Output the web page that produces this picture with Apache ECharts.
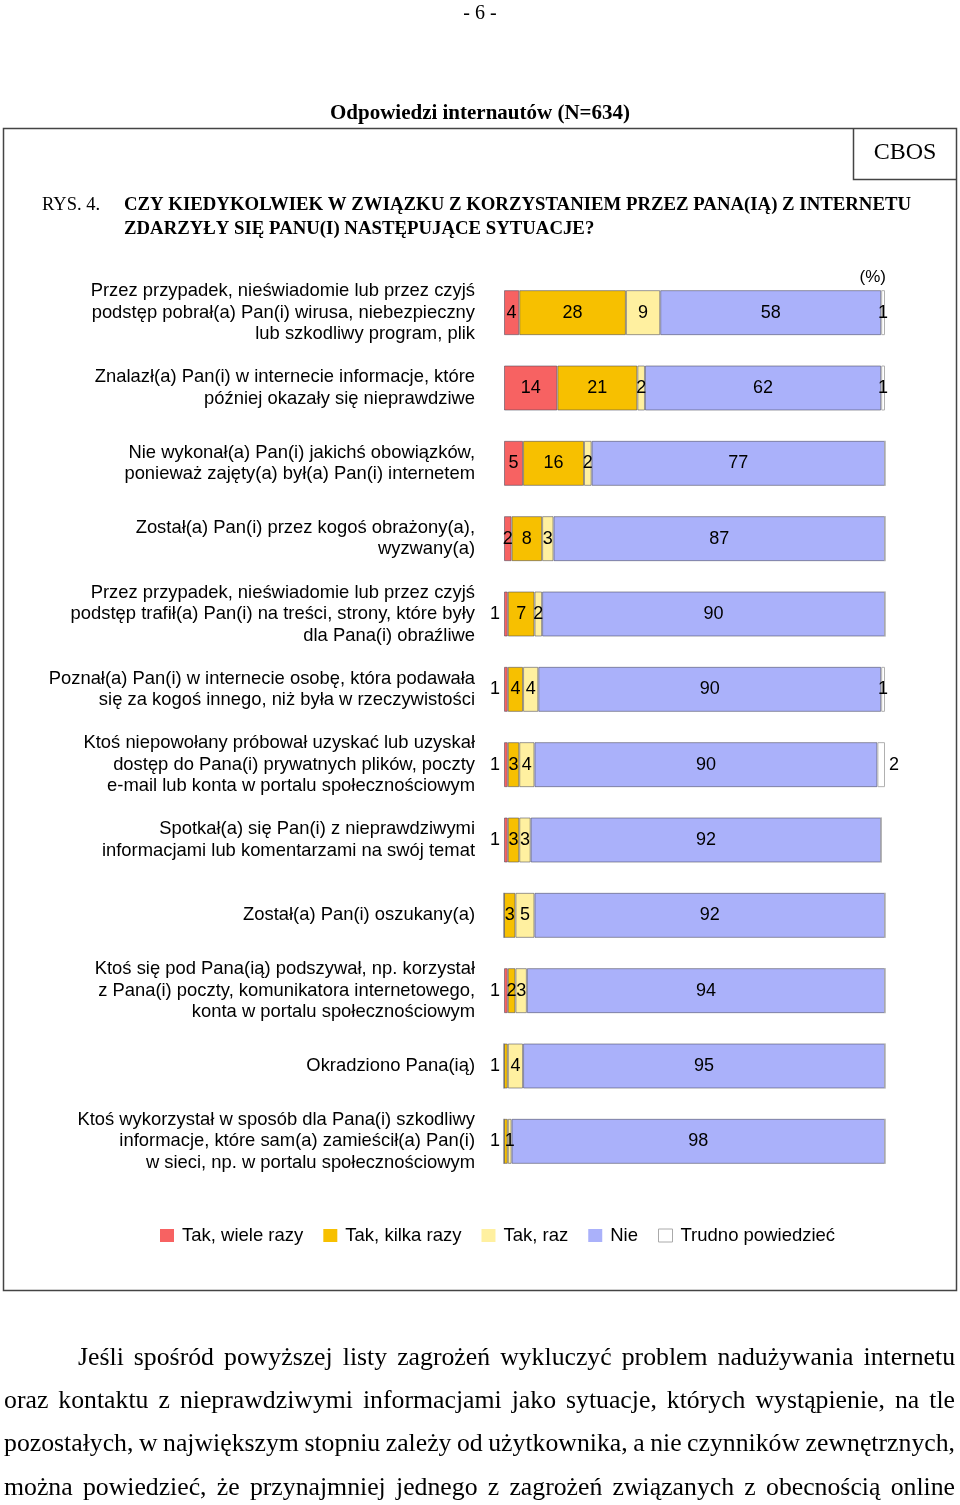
<!DOCTYPE html>
<html><head><meta charset="utf-8">
<script src="https://cdn.jsdelivr.net/npm/echarts@6/dist/echarts.min.js"></script>
<style>html,body{margin:0;padding:0;background:#fff}#c{width:960px;height:1505px}</style>
</head><body><div id="c"></div>
<script>
const categories = [
  "Przez przypadek, nieświadomie lub przez czyjś\npodstęp pobrał(a) Pan(i) wirusa, niebezpieczny\nlub szkodliwy program, plik",
  "Znalazł(a) Pan(i) w internecie informacje, które\npóźniej okazały się nieprawdziwe",
  "Nie wykonał(a) Pan(i) jakichś obowiązków,\nponieważ zajęty(a) był(a) Pan(i) internetem",
  "Został(a) Pan(i) przez kogoś obrażony(a),\nwyzwany(a)",
  "Przez przypadek, nieświadomie lub przez czyjś\npodstęp trafił(a) Pan(i) na treści, strony, które były\ndla Pana(i) obraźliwe",
  "Poznał(a) Pan(i) w internecie osobę, która podawała\nsię za kogoś innego, niż była w rzeczywistości",
  "Ktoś niepowołany próbował uzyskać lub uzyskał\ndostęp do Pana(i) prywatnych plików, poczty\ne-mail lub konta w portalu społecznościowym",
  "Spotkał(a) się Pan(i) z nieprawdziwymi\ninformacjami lub komentarzami na swój temat",
  "Został(a) Pan(i) oszukany(a)",
  "Ktoś się pod Pana(ią) podszywał, np. korzystał\nz Pana(i) poczty, komunikatora internetowego,\nkonta w portalu społecznościowym",
  "Okradziono Pana(ią)",
  "Ktoś wykorzystał w sposób dla Pana(i) szkodliwy\ninformacje, które sam(a) zamieścił(a) Pan(i)\nw sieci, np. w portalu społecznościowym"
];
const seriesNames = ["Tak, wiele razy", "Tak, kilka razy", "Tak, raz", "Nie", "Trudno powiedzieć"];
const takWiele  = [4, 14, 5, 2, 1, 1, 1, 1, 0, 1, 0, 0];
const takKilka  = [28, 21, 16, 8, 7, 4, 3, 3, 3, 2, 1, 1];
const takRaz    = [9, 2, 2, 3, 2, 4, 4, 3, 5, 3, 4, 1];
const nie       = [58, 62, 77, 87, 90, 90, 90, 92, 92, 94, 95, 98];
const trudno    = [1, 1, 0, 0, 0, 1, 2, 0, 0, 0, 0, 0];

const pageNumber = "- 6 -";
const titleText = "Odpowiedzi internautów (N=634)";
const figLabel = "RYS. 4.";
const questionLines = ["CZY KIEDYKOLWIEK W ZWIĄZKU Z KORZYSTANIEM PRZEZ PANA(IĄ) Z INTERNETU", "ZDARZYŁY SIĘ PANU(I) NASTĘPUJĄCE SYTUACJE?"];
const paragraphLines = [
  "Jeśli spośród powyższej listy zagrożeń wykluczyć problem nadużywania internetu",
  "oraz kontaktu z nieprawdziwymi informacjami jako sytuacje, których wystąpienie, na tle",
  "pozostałych, w największym stopniu zależy od użytkownika, a nie czynników zewnętrznych,",
  "można powiedzieć, że przynajmniej jednego z zagrożeń związanych z obecnością online"
];

const colors = ["#F76262", "#F7C000", "#FFF0A0", "#AAB1FA", "#FFFFFF"];
const allSeries = [takWiele, takKilka, takRaz, nie, trudno];

const SANS = "'Liberation Sans', Arial, sans-serif";
const SERIF = "'Liberation Serif', 'Times New Roman', serif";

function labelPos(si, idx) {
  const v = allSeries[si][idx];
  if (si === 4) return v >= 2 ? 'right' : 'inside';
  if (si <= 1 && v === 1) {
    let leftmost = true;
    for (let k = 0; k < si; k++) if (allSeries[k][idx] > 0) leftmost = false;
    if (leftmost) return 'left';
  }
  return 'inside';
}

const series = allSeries.map((arr, si) => ({
  name: seriesNames[si],
  type: 'bar',
  stack: 'total',
  barWidth: 45,
  itemStyle: { color: colors[si], borderColor: si === 4 ? '#b0b0b0' : 'rgba(70,70,90,0.55)', borderWidth: 1 },
  label: {
    show: true,
    fontFamily: SANS, fontSize: 18, color: '#000',
    formatter: p => (p.value ? String(p.value) : '')
  },
  data: arr.map((v, i) => ({ value: v, label: { position: labelPos(si, i), distance: 4 } }))
}));

const mc = document.createElement('canvas').getContext('2d');
function justify(line, size, x0, x1, y) {
  mc.font = size + "px " + SERIF;
  const words = line.split(' ');
  const w = words.map(s => mc.measureText(s).width);
  const total = w.reduce((a, b) => a + b, 0);
  const gap = (x1 - x0 - total) / (words.length - 1);
  let x = x0;
  const out = [];
  words.forEach((s, i) => {
    out.push({ type: 'text', x: x, y: y, style: { text: s, fontFamily: SERIF, fontSize: size, fill: '#000', verticalAlign: 'middle', textVerticalAlign: 'middle' } });
    x += w[i] + gap;
  });
  return out;
}
function fitSize(lines, maxSize, avail, minGap) {
  let size = maxSize;
  for (; size > 10; size -= 0.25) {
    mc.font = size + "px " + SERIF;
    const ok = lines.every((l, i) => {
      const ws = l.split(' ');
      const tw = ws.reduce((a, s) => a + mc.measureText(s).width, 0);
      return tw + minGap * (ws.length - 1) <= avail[i];
    });
    if (ok) break;
  }
  return size;
}

const graphics = [
  { type: 'text', x: 480, y: 14, style: { text: pageNumber, fontFamily: SERIF, fontSize: 20, fill: '#000', align: 'center', textAlign: 'center', verticalAlign: 'middle', textVerticalAlign: 'middle' } },
  { type: 'text', x: 480, y: 114, style: { text: titleText, fontFamily: SERIF, fontSize: 21, fontWeight: 'bold', fill: '#000', align: 'center', textAlign: 'center', verticalAlign: 'middle', textVerticalAlign: 'middle' } },
  { type: 'rect', shape: { x: 3.5, y: 128.5, width: 953, height: 1162 }, style: { fill: 'none', stroke: '#444', lineWidth: 1.5 } },
  { type: 'polyline', shape: { points: [[853.5, 128.5], [853.5, 179.5], [957, 179.5]] }, style: { fill: 'none', stroke: '#444', lineWidth: 1.5 } },
  { type: 'text', x: 905, y: 153, style: { text: 'CBOS', fontFamily: SERIF, fontSize: 24, fill: '#000', align: 'center', textAlign: 'center', verticalAlign: 'middle', textVerticalAlign: 'middle' } },
  { type: 'text', x: 42, y: 205, style: { text: figLabel, fontFamily: SERIF, fontSize: 18.5, fill: '#000', verticalAlign: 'middle', textVerticalAlign: 'middle' } },
  { type: 'text', x: 124, y: 205, style: { text: questionLines[0], fontFamily: SERIF, fontSize: 18.8, fontWeight: 'bold', fill: '#000', verticalAlign: 'middle', textVerticalAlign: 'middle' } },
  { type: 'text', x: 124, y: 229, style: { text: questionLines[1], fontFamily: SERIF, fontSize: 18.8, fontWeight: 'bold', fill: '#000', verticalAlign: 'middle', textVerticalAlign: 'middle' } },
  { type: 'text', x: 886, y: 277, style: { text: '(%)', fontFamily: SANS, fontSize: 17, fill: '#000', align: 'right', textAlign: 'right', verticalAlign: 'middle', textVerticalAlign: 'middle' } }
];
const paraY = [1358, 1401, 1444, 1488];
const paraX0 = paragraphLines.map((l, i) => (i === 0 ? 78 : 4));
const paraSize = fitSize(paragraphLines, 30, paraX0.map(x => 955 - x), 5);
paragraphLines.forEach((l, i) => {
  graphics.push(...justify(l, paraSize, paraX0[i], 955, paraY[i]));
});

const option = {
  animation: false,
  backgroundColor: '#fff',
  grid: { left: 504, top: 275, width: 381, height: 904, containLabel: false },
  xAxis: { type: 'value', min: 0, max: 100, show: false },
  yAxis: {
    type: 'category', data: categories, inverse: true,
    axisLine: { show: false }, axisTick: { show: false }, splitLine: { show: false },
    axisLabel: { fontFamily: SANS, fontSize: 18.4, lineHeight: 21.5, color: '#000', margin: 29, align: 'right' }
  },
  legend: {
    top: 1221, left: 155, itemWidth: 14, itemHeight: 13, itemGap: 20, icon: 'rect',
    textStyle: { fontFamily: SANS, fontSize: 18.5, color: '#000', padding: [0, 0, 0, 3] },
    data: seriesNames.map((n, i) => ({ name: n, itemStyle: i === 4 ? { borderColor: '#aaa', borderWidth: 1 } : { borderWidth: 0 } }))
  },
  series: series,
  graphic: graphics
};
const chart = echarts.init(document.getElementById('c'));
chart.setOption(option);
</script>
</body></html>
